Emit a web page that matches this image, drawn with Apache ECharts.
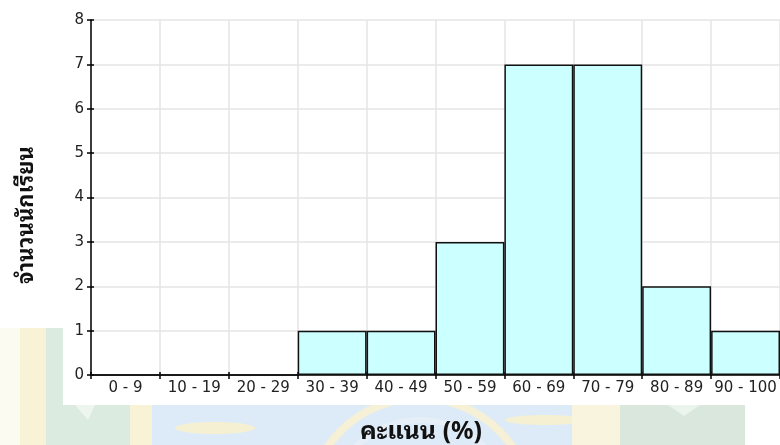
<!DOCTYPE html>
<html>
<head>
<meta charset="utf-8">
<script src="https://cdn.jsdelivr.net/npm/echarts@6/dist/echarts.min.js"></script>
<style>
  html, body { margin: 0; padding: 0; background: #ffffff; }
  #chart { width: 780px; height: 445px; }
</style>
</head>
<body>
<div id="chart"></div>
<script>
// Score bands (percent) and number of students in each band
var scoreBands = ['0 - 9', '10 - 19', '20 - 29', '30 - 39', '40 - 49', '50 - 59', '60 - 69', '70 - 79', '80 - 89', '90 - 100'];
var studentCounts = [0, 0, 0, 1, 1, 3, 7, 7, 2, 1];
var yTicks = [0, 1, 2, 3, 4, 5, 6, 7, 8];

var xTitle = 'คะแนน (%)';
var yTitle = 'จำนวนนักเรียน';

var chart = echarts.init(document.getElementById('chart'), null, { renderer: 'canvas' });

var titleFont = 'Noto Sans Thai Looped, Noto Sans Thai, Noto Sans, sans-serif';

// Faint school-crest backdrop behind the white chart panel
var backdrop = [
  { type: 'rect', shape: { x: 0, y: 0, width: 780, height: 445 }, style: { fill: '#fcfbf2' } },
  { type: 'rect', shape: { x: 20, y: 320, width: 26, height: 130 }, style: { fill: '#f8f2d6' } },
  { type: 'rect', shape: { x: 46, y: 320, width: 100, height: 130 }, style: { fill: '#dcebdf' } },
  { type: 'polygon', shape: { points: [[75, 405], [95, 405], [88, 420]] }, style: { fill: '#eef5ee' } },
  { type: 'rect', shape: { x: 130, y: 400, width: 22, height: 50 }, style: { fill: '#f8f2d6' } },
  { type: 'rect', shape: { x: 152, y: 400, width: 420, height: 50 }, style: { fill: '#dcebf7' } },
  { type: 'circle', shape: { cx: 420, cy: 510, r: 112 }, style: { fill: 'none', stroke: '#f5f0d6', lineWidth: 8 } },
  { type: 'circle', shape: { cx: 420, cy: 510, r: 90 }, style: { fill: 'none', stroke: '#e6eff7', lineWidth: 6 } },
  { type: 'ellipse', shape: { cx: 215, cy: 428, rx: 40, ry: 6 }, style: { fill: '#f6f0d3' } },
  { type: 'ellipse', shape: { cx: 545, cy: 420, rx: 40, ry: 5 }, style: { fill: '#f6f0d3' } },
  { type: 'rect', shape: { x: 572, y: 400, width: 48, height: 50 }, style: { fill: '#f9f4de' } },
  { type: 'rect', shape: { x: 620, y: 400, width: 125, height: 50 }, style: { fill: '#d9e7dc' } },
  { type: 'polygon', shape: { points: [[668, 405], [700, 405], [684, 416]] }, style: { fill: '#ecf4ee' } },
  { type: 'rect', shape: { x: 745, y: 400, width: 35, height: 50 }, style: { fill: '#ffffff' } },
  // white chart panel
  { type: 'rect', shape: { x: 63, y: 0, width: 717, height: 405 }, style: { fill: '#ffffff' } },
  { type: 'rect', shape: { x: 0, y: 0, width: 63, height: 328 }, style: { fill: '#ffffff' } }
].map(function (el) { el.z = -10; el.silent = true; return el; });

// Axis titles
var titles = [
  { type: 'text', x: 421, y: 432, z: 10, style: { text: xTitle, fill: '#111111', font: 'bold 25px ' + titleFont, align: 'center', verticalAlign: 'middle' } },
  { type: 'text', x: 27, y: 215, rotation: Math.PI / 2, z: 10, style: { text: yTitle, fill: '#111111', font: 'bold 22px ' + titleFont, align: 'center', verticalAlign: 'middle' } }
];

var labelFont = { color: '#222222', fontFamily: 'DejaVu Sans', fontSize: 15 };

chart.setOption({
  animation: false,
  backgroundColor: '#ffffff',
  graphic: { elements: backdrop.concat(titles) },
  grid: { left: 91, top: 20, width: 692, bottom: 70, containLabel: false },
  xAxis: [{
    type: 'category',
    data: scoreBands,
    boundaryGap: true,
    axisLine: { show: true, onZero: false, lineStyle: { color: '#000000', width: 1.5 } },
    axisTick: { show: true, alignWithLabel: false, length: 4, lineStyle: { color: '#000000', width: 1.5 } },
    axisLabel: Object.assign({ margin: 6, interval: 0 }, labelFont),
    splitLine: { show: true, lineStyle: { color: '#e4e4e4', width: 1.5 } }
  }, {
    type: 'category',
    data: scoreBands,
    position: 'bottom',
    boundaryGap: true,
    axisLine: { show: false },
    axisTick: { show: true, inside: true, length: 3, lineStyle: { color: '#000000', width: 1.5 } },
    axisLabel: { show: false },
    splitLine: { show: false }
  }],
  yAxis: [{
    type: 'value',
    min: 0,
    max: 8,
    interval: 1,
    axisLine: { show: true, lineStyle: { color: '#000000', width: 1.5 } },
    axisTick: { show: true, length: 4, lineStyle: { color: '#000000', width: 1.5 } },
    axisLabel: Object.assign({ margin: 7, formatter: function (v) { return yTicks.indexOf(v) >= 0 ? String(v) : ''; } }, labelFont),
    splitLine: { show: true, lineStyle: { color: '#e4e4e4', width: 1.5 } }
  }, {
    type: 'value',
    position: 'left',
    min: 0,
    max: 8,
    interval: 1,
    axisLine: { show: false },
    axisTick: { show: true, inside: true, length: 3, lineStyle: { color: '#000000', width: 1.5 } },
    axisLabel: { show: false },
    splitLine: { show: false }
  }],
  series: [{
    type: 'bar',
    data: studentCounts,
    barCategoryGap: '0%',
    itemStyle: { color: '#ccffff', borderColor: '#111111', borderWidth: 1.5 },
    z: 3
  }]
});
</script>
</body>
</html>
